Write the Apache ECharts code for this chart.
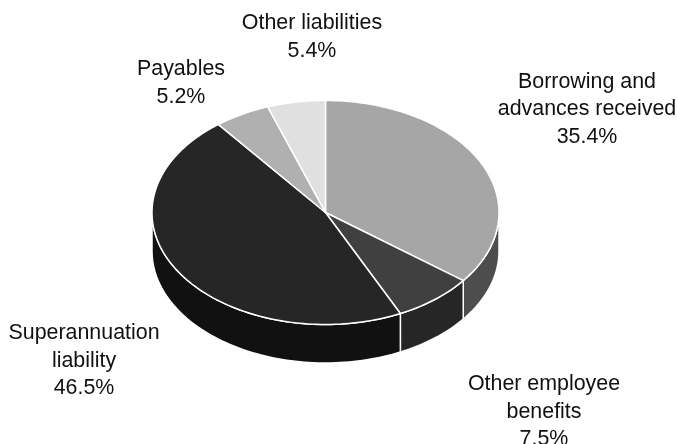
<!DOCTYPE html>
<html><head><meta charset="utf-8">
<style>html,body{margin:0;padding:0;background:#fff}#c{width:677px;height:444px}</style>
<script src="https://cdn.jsdelivr.net/npm/echarts@6/dist/echarts.min.js"></script>
</head><body><div id="c"></div>
<script>
const categories = ['Borrowing and\nadvances received','Other employee\nbenefits','Superannuation\nliability','Payables','Other liabilities'];
const shareValues = [35.4, 7.5, 46.5, 5.2, 5.4];
const topColors = ['#a6a6a6','#404040','#262626','#b0b0b0','#e0e0e0'];
const wallColors = ['#4d4d4d','#262626','#111111','#8a8a8a','#b4b4b4'];
const labelCenters = [[587,109.5],[544,412],[84,361],[181,83],[312,37]];

const CX = 325.5, CY = 212.5, RX = 173.5, RY = 112, DEPTH = 38.5, EDGE = 1.5;
const total = shareValues.reduce((a,b)=>a+b,0);
const starts = shareValues.map((_,i)=>shareValues.slice(0,i).reduce((a,b)=>a+b,0)/total*360);
const pt = (deg, dy) => {
  const r = deg*Math.PI/180;
  return [CX + RX*Math.sin(r), CY - RY*Math.cos(r) + (dy||0)];
};
const arc = (a, b, dy) => {
  const out = [], n = Math.max(2, Math.ceil((b-a)/1.5));
  for (let k=0;k<=n;k++) out.push(pt(a+(b-a)*k/n, dy));
  return out;
};
const sweep = (i, v) => [starts[i], starts[i] + v/total*360];
const dataRows = shareValues.map(v=>[v]);

function renderWall(params, api){
  const i = params.dataIndex;
  const [a,b] = sweep(i, api.value(0));
  const lo = Math.max(a,90), hi = Math.min(b,270);
  if (hi <= lo) return {type:'group',children:[]};
  const pts = arc(lo,hi,0).concat(arc(lo,hi,DEPTH).reverse());
  return {type:'polygon',shape:{points:pts},
    style:{fill:wallColors[i],stroke:'#fff',lineWidth:EDGE,lineJoin:'round'}};
}
function renderTop(params, api){
  const i = params.dataIndex;
  const [a,b] = sweep(i, api.value(0));
  return {type:'polygon',shape:{points:[[CX,CY]].concat(arc(a,b,0))},
    style:{fill:topColors[i],stroke:'#fff',lineWidth:EDGE,lineJoin:'round'}};
}
function renderLabel(params, api){
  const i = params.dataIndex;
  return {type:'text',style:{
    text:categories[i]+'\n'+api.value(0).toFixed(1)+'%',
    x:labelCenters[i][0],y:labelCenters[i][1],align:'center',verticalAlign:'middle',
    font:'21.4px "Liberation Sans", Arial, sans-serif',lineHeight:27.5,fill:'#111111'}};
}
const chart = echarts.init(document.getElementById('c'),null,{renderer:'canvas'});
chart.setOption({
  animation:false,
  backgroundColor:'#ffffff',
  series:[
    {type:'custom',coordinateSystem:'none',data:dataRows,renderItem:renderWall,silent:true,z:1},
    {type:'custom',coordinateSystem:'none',data:dataRows,renderItem:renderTop,silent:true,z:2},
    {type:'custom',coordinateSystem:'none',data:dataRows,renderItem:renderLabel,silent:true,z:3}
  ]
});
</script></body></html>
